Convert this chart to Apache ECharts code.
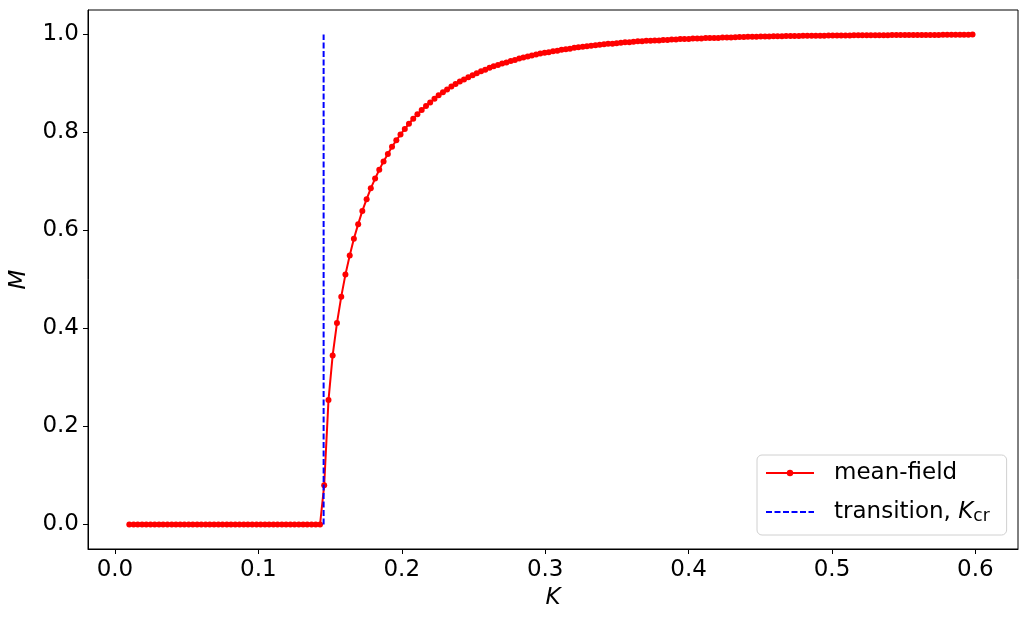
<!DOCTYPE html>
<html>
<head>
<meta charset="UTF-8">
<script type="text/javascript" src="https://cdn.jsdelivr.net/npm/echarts@6/dist/echarts.min.js"></script>
<style>
  body { margin: 0; background: #fff; }
</style>
</head>
<body>
<div id="chartmain" style="width:1027px; height:622px;"></div>
<script type="text/javascript">
// coupling K (x axis)
var kValues = [
  0.0100,0.0130,0.0159,0.0189,0.0218,0.0248,0.0277,0.0307,0.0336,0.0366,
  0.0396,0.0425,0.0455,0.0484,0.0514,0.0543,0.0573,0.0602,0.0632,0.0661,
  0.0691,0.0721,0.0750,0.0780,0.0809,0.0839,0.0868,0.0898,0.0927,0.0957,
  0.0987,0.1016,0.1046,0.1075,0.1105,0.1134,0.1164,0.1193,0.1223,0.1252,
  0.1282,0.1312,0.1341,0.1371,0.1400,0.1430,0.1459,0.1489,0.1518,0.1548,
  0.1578,0.1607,0.1637,0.1666,0.1696,0.1725,0.1755,0.1784,0.1814,0.1843,
  0.1873,0.1903,0.1932,0.1962,0.1991,0.2021,0.2050,0.2080,0.2109,0.2139,
  0.2169,0.2198,0.2228,0.2257,0.2287,0.2316,0.2346,0.2375,0.2405,0.2434,
  0.2464,0.2494,0.2523,0.2553,0.2582,0.2612,0.2641,0.2671,0.2700,0.2730,
  0.2760,0.2789,0.2819,0.2848,0.2878,0.2907,0.2937,0.2966,0.2996,0.3025,
  0.3055,0.3085,0.3114,0.3144,0.3173,0.3203,0.3232,0.3262,0.3291,0.3321,
  0.3351,0.3380,0.3410,0.3439,0.3469,0.3498,0.3528,0.3557,0.3587,0.3616,
  0.3646,0.3676,0.3705,0.3735,0.3764,0.3794,0.3823,0.3853,0.3882,0.3912,
  0.3942,0.3971,0.4001,0.4030,0.4060,0.4089,0.4119,0.4148,0.4178,0.4207,
  0.4237,0.4267,0.4296,0.4326,0.4355,0.4385,0.4414,0.4444,0.4473,0.4503,
  0.4533,0.4562,0.4592,0.4621,0.4651,0.4680,0.4710,0.4739,0.4769,0.4798,
  0.4828,0.4858,0.4887,0.4917,0.4946,0.4976,0.5005,0.5035,0.5064,0.5094,
  0.5124,0.5153,0.5183,0.5212,0.5242,0.5271,0.5301,0.5330,0.5360,0.5389,
  0.5419,0.5449,0.5478,0.5508,0.5537,0.5567,0.5596,0.5626,0.5655,0.5685,
  0.5715,0.5744,0.5774,0.5803,0.5833,0.5862,0.5892,0.5921,0.5951,0.5980
];
// magnetisation M, mean-field
var mValues = [
  0,0,0,0,0,0,0,0,0,0,
  0,0,0,0,0,0,0,0,0,0,
  0,0,0,0,0,0,0,0,0,0,
  0,0,0,0,0,0,0,0,0,0,
  0,0,0,0,0,0,0.080,0.254,0.345,0.411,
  0.465,0.510,0.549,0.583,0.613,0.640,0.664,0.686,0.706,0.724,
  0.741,0.756,0.771,0.784,0.796,0.807,0.818,0.828,0.837,0.846,
  0.854,0.861,0.869,0.876,0.882,0.888,0.894,0.899,0.904,0.908,
  0.913,0.917,0.921,0.925,0.928,0.932,0.935,0.938,0.941,0.943,
  0.946,0.948,0.951,0.953,0.955,0.957,0.959,0.961,0.963,0.964,
  0.966,0.967,0.969,0.970,0.971,0.973,0.974,0.975,0.976,0.977,
  0.978,0.979,0.980,0.981,0.981,0.982,0.983,0.984,0.984,0.985,
  0.986,0.986,0.987,0.987,0.988,0.988,0.989,0.989,0.990,0.990,
  0.991,0.991,0.991,0.992,0.992,0.992,0.993,0.993,0.993,0.993,
  0.994,0.994,0.994,0.9945,0.9948,0.9950,0.9952,0.9954,0.9956,0.9958,
  0.9959,0.9961,0.9962,0.9964,0.9965,0.9967,0.9968,0.9970,0.9971,0.9972,
  0.9973,0.9974,0.9975,0.9976,0.9977,0.9978,0.9979,0.9980,0.9981,0.9981,
  0.9982,0.9983,0.9983,0.9984,0.9985,0.9985,0.9986,0.9986,0.9987,0.9987,
  0.9988,0.9988,0.9989,0.9989,0.9990,0.9990,0.9991,0.9991,0.9991,0.9992,
  0.9992,0.9992,0.9993,0.9993,0.9993,0.9994,0.9994,0.9994,0.9994,1.0000
];
// transition line K_cr
var transK = [0.1455, 0.1455];
var transM = [0, 1];

var xTicks = [0, 0.1, 0.2, 0.3, 0.4, 0.5, 0.6];
var yTicks = [0, 0.2, 0.4, 0.6, 0.8, 1.0];

var FONT = 'DejaVu Sans';
var FS = 23;

function pairs(xs, ys) {
  var out = [];
  for (var i = 0; i < xs.length; i++) out.push([xs[i], ys[i]]);
  return out;
}

var option = {
  animation: false,
  backgroundColor: '#ffffff',
  textStyle: { fontFamily: FONT },
  grid: {
    left: 88, right: 9, top: 10, bottom: 73,
    show: true, borderColor: '#000', borderWidth: 1, backgroundColor: 'transparent'
  },
  legend: {
    orient: 'vertical',
    left: 757, top: 455,
    padding: [5, 17, 10, 8],
    itemWidth: 48, itemHeight: 8, itemGap: 13,
    backgroundColor: '#fff',
    borderColor: '#d0d0d0', borderWidth: 1, borderRadius: 5,
    data: [
      { name: 'mean-field' },
      { name: 'transition', itemStyle: { opacity: 0 } }
    ],
    formatter: function (name) {
      if (name === 'transition') return 'transition, {it|K}{sub|cr}';
      return name;
    },
    textStyle: {
      fontFamily: FONT, fontSize: FS, color: '#000', lineHeight: 26, padding: [0, 0, 0, 15],
      rich: {
        it: { fontFamily: FONT, fontStyle: 'italic', fontSize: FS, color: '#000', lineHeight: 26 },
        sub: { fontFamily: FONT, fontSize: 17, color: '#000', lineHeight: 26, verticalAlign: 'bottom', padding: [6, 0, 0, 0] }
      }
    }
  },
  xAxis: {
    type: 'value',
    min: -0.0188, max: 0.6297,
    name: 'K', nameLocation: 'middle', nameGap: 37,
    nameTextStyle: { fontFamily: FONT, fontStyle: 'italic', fontSize: FS, color: '#000' },
    axisLine: { show: true, onZero: false, lineStyle: { color: '#000' } },
    axisTick: { show: true, inside: false, length: 5, customValues: xTicks, lineStyle: { color: '#000' } },
    axisLabel: {
      customValues: xTicks, margin: 10,
      fontFamily: FONT, fontSize: FS, color: '#000',
      formatter: function (v) { return v.toFixed(1); }
    },
    splitLine: { show: false }
  },
  yAxis: {
    type: 'value',
    min: -0.05, max: 1.05,
    name: 'M', nameLocation: 'middle', nameGap: 57,
    nameTextStyle: { fontFamily: FONT, fontStyle: 'italic', fontSize: FS, color: '#000' },
    axisLine: { show: true, onZero: false, lineStyle: { color: '#000' } },
    axisTick: { show: true, inside: false, length: 5, customValues: yTicks, lineStyle: { color: '#000' } },
    axisLabel: {
      customValues: yTicks, margin: 9,
      fontFamily: FONT, fontSize: FS, color: '#000',
      formatter: function (v) { return v.toFixed(1); }
    },
    splitLine: { show: false }
  },
  series: [
    {
      name: 'mean-field',
      type: 'line',
      data: pairs(kValues, mValues),
      showAllSymbol: true,
      symbol: 'circle', symbolSize: 6,
      itemStyle: { color: '#ff0000' },
      lineStyle: { color: '#ff0000', width: 2 },
      z: 3
    },
    {
      name: 'transition',
      type: 'line',
      data: pairs(transK, transM),
      showSymbol: false, symbol: 'none',
      itemStyle: { color: '#0000ff' },
      lineStyle: { color: '#0000ff', width: 2, type: [6, 2.5] },
      z: 4
    }
  ]
};

var myChart = echarts.init(document.getElementById('chartmain'));
myChart.setOption(option);
</script>
</body>
</html>
